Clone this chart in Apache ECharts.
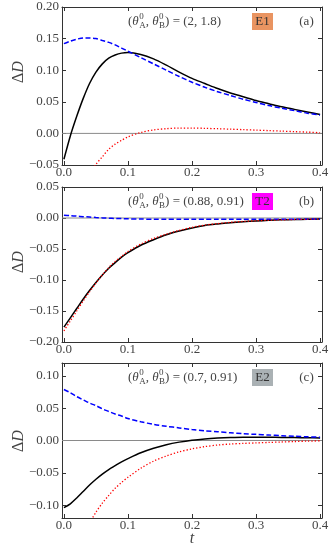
<!DOCTYPE html>
<html>
<head>
<meta charset="utf-8">
<script src="https://cdn.jsdelivr.net/npm/echarts@6/dist/echarts.min.js"></script>
<style>
  html, body { margin: 0; padding: 0; background: #fff; }
  #chart { width: 332px; height: 552px; }
</style>
</head>
<body>
<div id="chart"></div>
<script>
// time grid shared by every curve
var T = [0, 0.01, 0.02, 0.03, 0.04, 0.05, 0.06, 0.07, 0.08, 0.09, 0.10,
         0.12, 0.14, 0.16, 0.18, 0.20, 0.22, 0.24, 0.26, 0.28, 0.30,
         0.32, 0.34, 0.36, 0.38, 0.40];

// panel (a)  (2, 1.8)  E1
var blackA = [-0.041, -0.004, 0.027, 0.055, 0.079, 0.097, 0.110, 0.119, 0.124, 0.127, 0.128,
              0.125, 0.118, 0.108, 0.097, 0.087, 0.079, 0.071, 0.064, 0.058, 0.052,
              0.047, 0.042, 0.038, 0.034, 0.030];
var blueA = [0.142, 0.146, 0.149, 0.151, 0.151, 0.150, 0.147, 0.144, 0.140, 0.135, 0.130,
             0.120, 0.110, 0.100, 0.090, 0.081, 0.073, 0.066, 0.060, 0.054, 0.049,
             0.044, 0.040, 0.036, 0.032, 0.029];
var redA = [null, null, null, -0.090, -0.066, -0.049, -0.037, -0.025, -0.017, -0.011, -0.0055,
            0.0015, 0.0055, 0.0075, 0.0085, 0.0085, 0.008, 0.0074, 0.0067, 0.006, 0.0052,
            0.0044, 0.0036, 0.0028, 0.002, 0.0012];

// panel (b)  (0.88, 0.91)  T2
var blackB = [-0.176, -0.161, -0.146, -0.131, -0.117, -0.104, -0.092, -0.081, -0.072, -0.063, -0.056,
              -0.044, -0.035, -0.027, -0.021, -0.016, -0.012, -0.0095, -0.0075, -0.006, -0.0048,
              -0.0038, -0.003, -0.0025, -0.002, -0.0017];
var blueB = [0.0045, 0.0038, 0.003, 0.0022, 0.0015, 0.0008, 0.0002, -0.0003, -0.0007, -0.001, -0.0013,
             -0.0017, -0.002, -0.0021, -0.0022, -0.0022, -0.0022, -0.0022, -0.0021, -0.0021, -0.002,
             -0.002, -0.0019, -0.0019, -0.0018, -0.0018];
var redB = [-0.182, -0.166, -0.150, -0.134, -0.119, -0.105, -0.092, -0.080, -0.070, -0.062, -0.054,
            -0.042, -0.033, -0.026, -0.020, -0.015, -0.0115, -0.009, -0.007, -0.0055, -0.0045,
            -0.0036, -0.003, -0.0024, -0.002, -0.0016];

// panel (c)  (0.7, 0.91)  E2
var blackC = [-0.104, -0.098, -0.089, -0.079, -0.069, -0.060, -0.052, -0.045, -0.039, -0.033, -0.028,
              -0.019, -0.012, -0.0065, -0.0025, 0.0005, 0.0025, 0.0038, 0.0046, 0.005, 0.005,
              0.005, 0.0048, 0.0045, 0.0042, 0.004];
var blueC = [0.079, 0.074, 0.068, 0.063, 0.058, 0.054, 0.049, 0.045, 0.041, 0.038, 0.034,
             0.029, 0.025, 0.022, 0.0195, 0.017, 0.015, 0.0135, 0.012, 0.0105, 0.0095,
             0.0085, 0.0075, 0.0065, 0.0058, 0.005];
var redC = [null, null, null, null, -0.128, -0.111, -0.097, -0.085, -0.074, -0.065, -0.057,
            -0.043, -0.032, -0.024, -0.0175, -0.013, -0.0095, -0.007, -0.0055, -0.0045, -0.0037,
            -0.003, -0.0023, -0.0016, -0.001, -0.0006];

var xTicks = [0, 0.1, 0.2, 0.3, 0.4];
var yTicksA = [-0.05, 0, 0.05, 0.10, 0.15, 0.20];
var yTicksB = [-0.20, -0.15, -0.10, -0.05, 0, 0.05];
var yTicksC = [-0.10, -0.05, 0, 0.05, 0.10];
var xMin = -0.003, xMax = 0.403;

var panels = [
  { top: 7,   height: 158, ymin: -0.05, ymax: 0.20, ticks: yTicksA, k: [blackA, blueA, redA],
    vals: '(2, 1.8)', tag: 'E1', tagColor: '#E99461', letter: '(a)' },
  { top: 187, height: 155, ymin: -0.20, ymax: 0.05, ticks: yTicksB, k: [blackB, blueB, redB],
    vals: '(0.88, 0.91)', tag: 'T2', tagColor: '#FF00FF', letter: '(b)' },
  { top: 363, height: 155, ymin: -0.12, ymax: 0.12, ticks: yTicksC, k: [blackC, blueC, redC],
    vals: '(0.7, 0.91)', tag: 'E2', tagColor: '#AAB1B4', letter: '(c)' }
];

var FONT = '"Liberation Serif", "DejaVu Serif", serif';
var frame = '#333';
var textCol = '#444';

function pairs(vals) {
  var out = [];
  T.forEach(function (t, i) { if (vals[i] != null) out.push([t, vals[i]]); });
  return out;
}
function fmtY(v) {
  if (Math.abs(v) < 1e-9) return '0.00';
  return (v < 0 ? '\u2212' : '') + Math.abs(v).toFixed(2);
}

// measure text so the math label pieces can be laid out
var ctx = document.createElement('canvas').getContext('2d');
function tw(s, font) { ctx.font = font; return ctx.measureText(s).width; }

function mathLabel(x, y, parts) {
  var big = '13px ' + FONT, ital = 'italic 13px ' + FONT, small = '9px ' + FONT;
  var els = [];
  parts.forEach(function (p) {
    if (typeof p === 'string') {
      els.push({ type: 'text', x: x, y: y, style: { text: p, font: big, fill: textCol,
        verticalAlign: 'middle', textVerticalAlign: 'middle' } });
      x += tw(p, big);
    } else {
      els.push({ type: 'text', x: x, y: y, style: { text: p.b, font: ital, fill: textCol,
        verticalAlign: 'middle', textVerticalAlign: 'middle' } });
      x += tw(p.b, ital) + 0.5;
      els.push({ type: 'text', x: x, y: y - 5, style: { text: p.sup, font: small, fill: textCol,
        verticalAlign: 'middle', textVerticalAlign: 'middle' } });
      els.push({ type: 'text', x: x, y: y + 4.5, style: { text: p.sub, font: small, fill: textCol,
        verticalAlign: 'middle', textVerticalAlign: 'middle' } });
      x += Math.max(tw(p.sup, small), tw(p.sub, small));
    }
  });
  return els;
}

var grids = [], xAxes = [], yAxes = [], series = [], graphics = [];

panels.forEach(function (p, g) {
  grids.push({ left: 62, right: 10, top: p.top, height: p.height });

  var xBase = { type: 'value', gridIndex: g, min: xMin, max: xMax,
    axisLine: { show: true, onZero: false, lineStyle: { color: frame, width: 1 } },
    axisTick: { show: true, inside: true, length: 4, customValues: xTicks, lineStyle: { color: frame } },
    splitLine: { show: false } };
  xAxes.push(Object.assign({}, xBase, { position: 'bottom',
    axisLabel: { show: true, customValues: xTicks, margin: 1, color: textCol,
      fontFamily: FONT, fontSize: 13, formatter: function (v) { return v.toFixed(1); } } }));
  xAxes.push(Object.assign({}, xBase, { position: 'top', axisLabel: { show: false } }));

  var yBase = { type: 'value', gridIndex: g, min: p.ymin, max: p.ymax,
    axisLine: { show: true, onZero: false, lineStyle: { color: frame, width: 1 } },
    axisTick: { show: true, inside: true, length: 4, customValues: p.ticks, lineStyle: { color: frame } },
    splitLine: { show: false } };
  yAxes.push(Object.assign({}, yBase, { position: 'left',
    axisLabel: { show: true, customValues: p.ticks, margin: 3, color: textCol,
      fontFamily: FONT, fontSize: 13, formatter: fmtY } }));
  yAxes.push(Object.assign({}, yBase, { position: 'right', axisLabel: { show: false } }));

  // zero reference line
  series.push({ type: 'line', xAxisIndex: 2 * g, yAxisIndex: 2 * g, z: 1, silent: true,
    showSymbol: false, data: [[xMin, 0], [xMax, 0]], lineStyle: { color: '#8a8a8a', width: 1 } });

  var styles = [
    { color: '#000000', width: 1.5, type: 'solid' },
    { color: '#0000FF', width: 1.5, type: [5, 2.5] },
    { color: '#FF0000', width: 1.3, type: [1.3, 2] }
  ];
  p.k.forEach(function (vals, i) {
    series.push({ type: 'line', xAxisIndex: 2 * g, yAxisIndex: 2 * g, z: 2 + i, silent: true,
      showSymbol: false, smooth: 0.3, clip: true, data: pairs(vals), lineStyle: styles[i] });
  });

  var cy = p.top + 14.5;
  graphics = graphics.concat(mathLabel(128, cy, ['(', { b: '\u03B8', sup: '0', sub: 'A' }, ', ',
    { b: '\u03B8', sup: '0', sub: 'B' }, ') = ' + p.vals]));
  graphics.push({ type: 'rect', shape: { x: 252, y: cy - 8.5, width: 21, height: 17 },
    style: { fill: p.tagColor } });
  graphics.push({ type: 'text', x: 262.5, y: cy, style: { text: p.tag, font: '13px ' + FONT,
    fill: '#333', align: 'center', textAlign: 'center', verticalAlign: 'middle', textVerticalAlign: 'middle' } });
  graphics.push({ type: 'text', x: 306.5, y: cy, style: { text: p.letter, font: '13px ' + FONT,
    fill: textCol, align: 'center', textAlign: 'center', verticalAlign: 'middle', textVerticalAlign: 'middle' } });
});

// y-axis titles and the shared t label
[72, 262, 441].forEach(function (cy) {
  graphics.push({ type: 'text', x: 19, y: cy, rotation: Math.PI / 2,
    style: { text: '{a|\u0394}{b|D}', align: 'center', textAlign: 'center',
      verticalAlign: 'middle', textVerticalAlign: 'middle', fill: textCol,
      rich: { a: { font: '16px ' + FONT, fill: textCol, color: textCol },
              b: { font: 'italic 16px ' + FONT, fill: textCol, color: textCol } } } });
});
graphics.push({ type: 'text', x: 192, y: 539, style: { text: 't', font: 'italic 16px ' + FONT,
  fill: textCol, align: 'center', textAlign: 'center', verticalAlign: 'middle', textVerticalAlign: 'middle' } });

var chart = echarts.init(document.getElementById('chart'), null, { renderer: 'canvas' });
chart.setOption({
  animation: false,
  backgroundColor: '#fff',
  grid: grids,
  xAxis: xAxes,
  yAxis: yAxes,
  series: series,
  graphic: graphics
});
</script>
</body>
</html>
